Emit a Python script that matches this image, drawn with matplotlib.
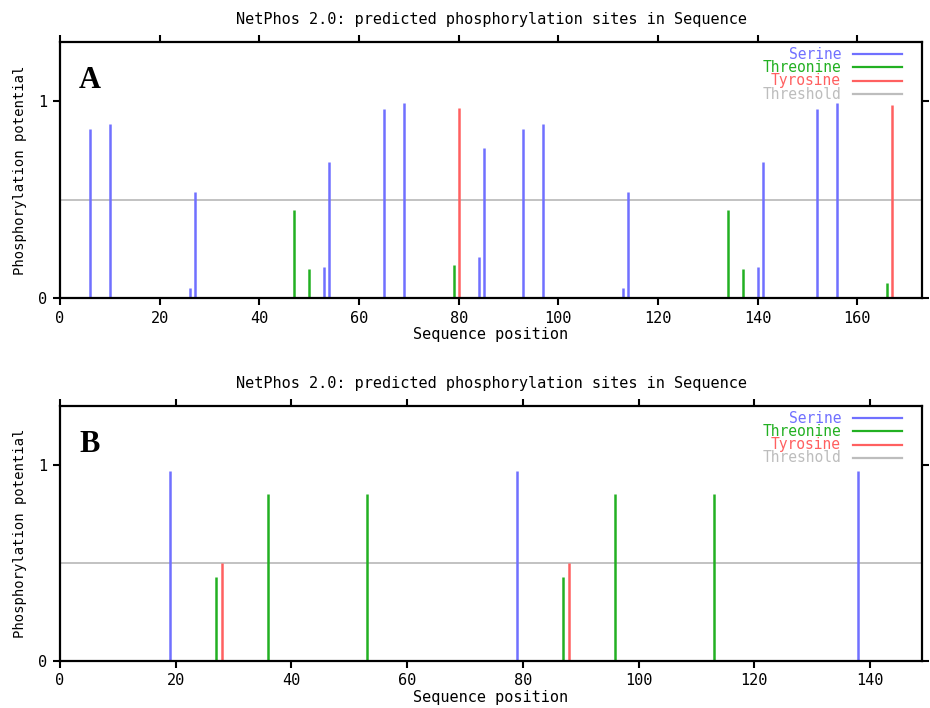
import matplotlib.pyplot as plt
from matplotlib.lines import Line2D

# panel A
a_ser_pos = [6, 10, 26, 27, 53, 54, 65, 69, 84, 85, 93, 97, 113, 114, 140, 141, 152, 156]
a_ser_val = [0.86, 0.885, 0.05, 0.54, 0.16, 0.69, 0.96, 0.99, 0.21, 0.76, 0.86, 0.885, 0.05, 0.54, 0.16, 0.69, 0.96, 0.99]
a_thr_pos = [47, 50, 79, 134, 137, 166]
a_thr_val = [0.445, 0.15, 0.17, 0.445, 0.15, 0.075]
a_tyr_pos = [80, 167]
a_tyr_val = [0.966, 0.98]

# panel B
b_ser_pos = [19, 79, 138]
b_ser_val = [0.968, 0.968, 0.968]
b_thr_pos = [27, 36, 53, 87, 96, 113]
b_thr_val = [0.43, 0.85, 0.85, 0.43, 0.85, 0.85]
b_tyr_pos = [28, 88]
b_tyr_val = [0.50, 0.50]

threshold = 0.5
names = ['Serine', 'Threonine', 'Tyrosine', 'Threshold']
colors = ['#7070ff', '#22b022', '#ff6060', '#bdbdbd']
title = 'NetPhos 2.0: predicted phosphorylation sites in Sequence'
mono = 'DejaVu Sans Mono'
fs = 11

fig = plt.figure(figsize=(9.3, 7.08), dpi=100)


def panel(rect, letter, xmax, ser, thr, tyr):
    ax = fig.add_axes(rect)
    ax.axhline(threshold, color=colors[3], lw=1.3, zorder=1)
    for (pos, val), c in zip([ser, thr, tyr], colors):
        ax.vlines(pos, 0, val, colors=c, lw=1.8, zorder=2)
    ax.set_xlim(0, xmax)
    ax.set_ylim(0, 1.3)
    ax.set_xticks(range(0, int(xmax) + 1, 20))
    ax.set_yticks([0, 1])
    ax.tick_params(direction='out', length=5, width=1.5, top=True, right=True,
                   labelsize=fs, pad=4)
    for lab in ax.get_xticklabels() + ax.get_yticklabels():
        lab.set_family(mono)
    for s in ax.spines.values():
        s.set_linewidth(1.6)
    ax.set_title(title, family=mono, fontsize=fs, pad=13)
    ax.set_xlabel('Sequence position', family=mono, fontsize=fs, labelpad=1)
    ax.set_ylabel('Phosphorylation potential', family=mono, fontsize=10, labelpad=8)
    ax.text(0.022, 0.85, letter, transform=ax.transAxes, family='Liberation Serif',
            fontsize=22, fontweight='bold', va='center')
    # legend: right-aligned coloured text with a line sample
    for i, (n, c) in enumerate(zip(names, colors)):
        yy = 0.953 - i * 0.052
        ax.text(0.906, yy, n, transform=ax.transAxes, ha='right', va='center',
                color=c, family=mono, fontsize=10.5)
        ax.add_line(Line2D([0.92, 0.977], [yy, yy], transform=ax.transAxes,
                           color=c, lw=1.6))
    return ax


panel([0.0645, 0.579, 0.927, 0.3616], 'A', 173,
      (a_ser_pos, a_ser_val), (a_thr_pos, a_thr_val), (a_tyr_pos, a_tyr_val))
panel([0.0645, 0.0664, 0.927, 0.360], 'B', 149,
      (b_ser_pos, b_ser_val), (b_thr_pos, b_thr_val), (b_tyr_pos, b_tyr_val))

fig.savefig('out.png', dpi=100)
